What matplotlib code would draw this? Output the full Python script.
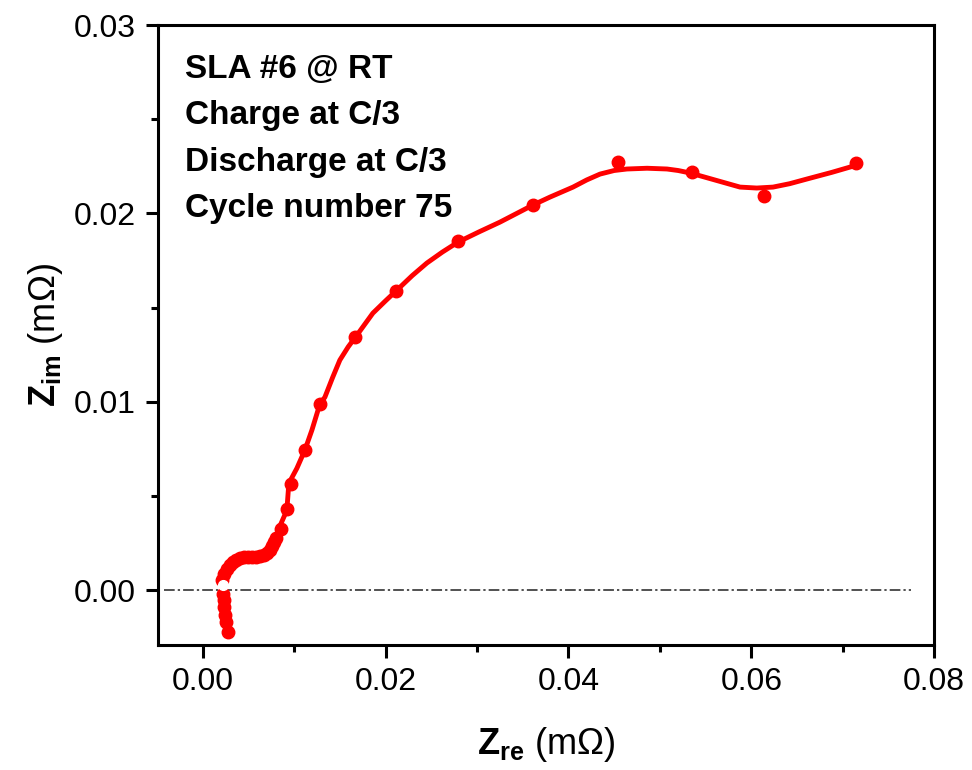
import numpy as np
import matplotlib
matplotlib.use("Agg")
import matplotlib.pyplot as plt
from matplotlib.ticker import MultipleLocator, FormatStrFormatter

plt.rcParams['font.family'] = ['Liberation Sans', 'DejaVu Sans']
plt.rcParams['mathtext.fontset'] = 'custom'
plt.rcParams['mathtext.rm'] = 'Liberation Sans'
plt.rcParams['mathtext.bf'] = 'Liberation Sans:bold'
plt.rcParams['mathtext.it'] = 'Liberation Sans:italic'

# measured points (Nyquist plot), mOhm
z_re = [0.00274, 0.00252, 0.00241, 0.00230, 0.00230, 0.00219, 0.00208, 0.00230,
        0.00263, 0.00295, 0.00328, 0.00361, 0.00405, 0.00449, 0.00492, 0.00536,
        0.00580, 0.00624, 0.00668, 0.00700, 0.00733, 0.00755, 0.00777, 0.00799,
        0.00854, 0.00919, 0.00963, 0.01116, 0.01280, 0.01663, 0.02112, 0.02791,
        0.03612, 0.04542, 0.05352, 0.06140, 0.07146]
z_im = [-0.00223, -0.00170, -0.00133, -0.00090, -0.00053, -0.00021, 0.00053, 0.00085,
        0.00112, 0.00133, 0.00149, 0.00159, 0.00170, 0.00175, 0.00175, 0.00175,
        0.00175, 0.00181, 0.00186, 0.00197, 0.00212, 0.00234, 0.00255, 0.00276,
        0.00324, 0.00430, 0.00563, 0.00744, 0.00988, 0.01344, 0.01588, 0.01853,
        0.02045, 0.02273, 0.02220, 0.02093, 0.02268]

# smooth fitted curve
fit_re = [0.00274, 0.00241, 0.00219, 0.00208, 0.00208, 0.00252, 0.00317, 0.00405,
          0.00514, 0.00646, 0.00733, 0.00788, 0.00832, 0.00919, 0.00941, 0.01029,
          0.01116, 0.01193, 0.01280, 0.01335, 0.01420, 0.01499, 0.01590, 0.01685,
          0.01860, 0.02000, 0.02123, 0.02290, 0.02451, 0.02620, 0.02791, 0.03020,
          0.03250, 0.03612, 0.03798, 0.04050, 0.04200, 0.04345, 0.04500, 0.04640,
          0.04860, 0.05078, 0.05200, 0.05330, 0.05600, 0.05877, 0.06060, 0.06238,
          0.06420, 0.06610, 0.06880, 0.07157]
fit_im = [-0.00223, -0.00133, -0.00053, 0.00000, 0.00037, 0.00096, 0.00149, 0.00175,
          0.00175, 0.00186, 0.00212, 0.00266, 0.00329, 0.00425, 0.00568, 0.00648,
          0.00744, 0.00850, 0.00988, 0.01025, 0.01130, 0.01222, 0.01292, 0.01354,
          0.01471, 0.01537, 0.01593, 0.01670, 0.01737, 0.01795, 0.01848, 0.01902,
          0.01954, 0.02045, 0.02087, 0.02140, 0.02178, 0.02209, 0.02228, 0.02236,
          0.02240, 0.02236, 0.02228, 0.02215, 0.02178, 0.02140, 0.02135, 0.02140,
          0.02158, 0.02183, 0.02218, 0.02257]

info = ["SLA #6 @ RT", "Charge at C/3", "Discharge at C/3", "Cycle number 75"]

fig = plt.figure(figsize=(9.72, 7.7), dpi=100)
ax = fig.add_axes([0.1626, 0.1623, 0.961 - 0.1626, 0.9675 - 0.1623])

ax.hlines(0, -0.0042, 0.0775, colors='#222222', linewidth=1.1,
          linestyles=(0, (7, 2, 1.5, 2)), zorder=1)
ax.plot(fit_re, fit_im, color='red', lw=3.5, zorder=2)
ax.plot(z_re, z_im, 'o', color='red', ms=9, zorder=3)
ax.plot([0.00219], [0.00027], 'o', color='white', ms=7, zorder=4)

ax.set_xlim(-0.0049, 0.08)
ax.set_ylim(-0.0029, 0.03)
ax.xaxis.set_major_locator(MultipleLocator(0.02))
ax.xaxis.set_minor_locator(MultipleLocator(0.01))
ax.yaxis.set_major_locator(MultipleLocator(0.01))
ax.yaxis.set_minor_locator(MultipleLocator(0.005))
ax.xaxis.set_major_formatter(FormatStrFormatter('%.2f'))
ax.yaxis.set_major_formatter(FormatStrFormatter('%.2f'))

for s in ax.spines.values():
    s.set_linewidth(2.2)
ax.tick_params(which='major', direction='out', length=9, width=2.2,
               labelsize=23, pad=7)
ax.tick_params(which='minor', direction='out', length=5, width=2.2)
ax.tick_params(top=False, right=False, which='both')

ax.set_xlabel(r'$\mathbf{Z_{re}}$ (m$\Omega$)', fontsize=26, labelpad=20)
ax.set_ylabel(r'$\mathbf{Z_{im}}$ (m$\Omega$)', fontsize=26, labelpad=6)

for i, t in enumerate(info):
    ax.text(0.035, 0.928 - i * 0.0745, t, transform=ax.transAxes, fontsize=24,
            fontweight='bold', va='center', ha='left')

fig.savefig('out.png', dpi=100)
